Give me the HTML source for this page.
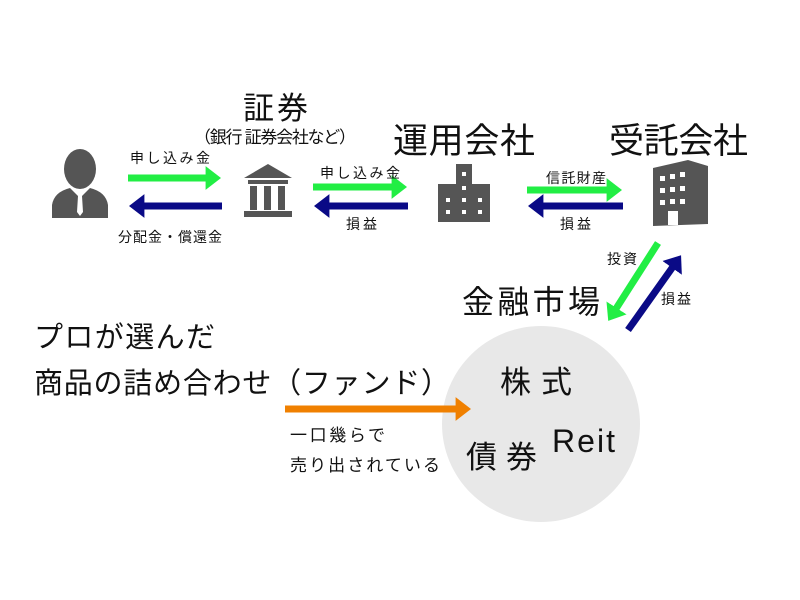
<!DOCTYPE html>
<html><head><meta charset="utf-8"><style>
html,body{margin:0;padding:0;background:#fff;}
svg{display:block;}
text{font-family:"Liberation Sans","Noto Sans CJK JP",sans-serif;fill:#111;}
</style></head><body>
<svg width="800" height="600" viewBox="0 0 800 600" xmlns="http://www.w3.org/2000/svg">
<defs>
<marker id="g" markerWidth="4" markerHeight="4" refX="1.2" refY="2" orient="auto" markerUnits="strokeWidth"><path d="M0,0.3 L2.2,2 L0,3.7z" fill="#22ee44"/></marker>
<marker id="b" markerWidth="4" markerHeight="4" refX="1.2" refY="2" orient="auto" markerUnits="strokeWidth"><path d="M0,0.3 L2.2,2 L0,3.7z" fill="#0a0a86"/></marker>
<marker id="o" markerWidth="4" markerHeight="4" refX="1.2" refY="2" orient="auto" markerUnits="strokeWidth"><path d="M0,0.3 L2.2,2 L0,3.7z" fill="#f08000"/></marker>
</defs>
<ellipse cx="541" cy="424" rx="99" ry="98" fill="#e8e8e8"/>

<g fill="#555">
<ellipse cx="80" cy="169" rx="16" ry="20"/>
<path d="M52,218 L52,205 Q54,192 70,188 L80,198 L90,188 Q106,192 108,205 L108,218z"/>
<path d="M78,196 L82,196 L83,212 L80,216 L77,212z" fill="#fff"/>
</g>
<g fill="#555">
<path d="M244,178 L268,164 L292,178z"/>
<rect x="248" y="180" width="40" height="4"/>
<rect x="250" y="186" width="7" height="24"/><rect x="264" y="186" width="7" height="24"/><rect x="278" y="186" width="7" height="24"/>
<rect x="244" y="211" width="48" height="6"/>
</g>
<g fill="#555">
<rect x="456" y="164" width="16" height="58"/>
<rect x="438" y="184" width="52" height="38"/>
<g fill="#fff">
<rect x="462" y="172" width="4" height="4"/><rect x="462" y="186" width="4" height="4"/>
<rect x="446" y="198" width="4" height="4"/><rect x="462" y="198" width="4" height="4"/><rect x="478" y="198" width="4" height="4"/>
<rect x="446" y="210" width="4" height="4"/><rect x="462" y="210" width="4" height="4"/><rect x="478" y="210" width="4" height="4"/>
</g></g>
<g fill="#555">
<path d="M653,168 L688,160 L708,166 L708,224 L653,226z"/>
<g fill="#fff">
<rect x="660" y="176" width="5" height="5"/><rect x="670" y="174" width="5" height="5"/><rect x="680" y="172" width="5" height="5"/>
<rect x="660" y="188" width="5" height="5"/><rect x="670" y="187" width="5" height="5"/><rect x="680" y="186" width="5" height="5"/>
<rect x="660" y="200" width="5" height="5"/><rect x="670" y="199" width="5" height="5"/><rect x="680" y="199" width="5" height="5"/>
<rect x="668" y="211" width="10" height="14"/>
</g></g>

<g stroke-width="7" fill="none">
<line x1="128" y1="178" x2="214" y2="178" stroke="#22ee44" marker-end="url(#g)"/>
<line x1="222" y1="206" x2="136" y2="206" stroke="#0a0a86" marker-end="url(#b)"/>
<line x1="313" y1="187" x2="400" y2="187" stroke="#22ee44" marker-end="url(#g)"/>
<line x1="408" y1="206" x2="321" y2="206" stroke="#0a0a86" marker-end="url(#b)"/>
<line x1="527" y1="190" x2="615" y2="190" stroke="#22ee44" marker-end="url(#g)"/>
<line x1="623" y1="206" x2="535" y2="206" stroke="#0a0a86" marker-end="url(#b)"/>
<line x1="658" y1="243" x2="612" y2="315" stroke="#22ee44" marker-end="url(#g)"/>
<line x1="628" y1="330" x2="677" y2="261" stroke="#0a0a86" marker-end="url(#b)"/>
<line x1="285" y1="409" x2="464" y2="409" stroke="#f08000" marker-end="url(#o)"/>
</g>

<text x="243" y="119" font-size="31" textLength="65">証券</text>
<text x="194" y="143" font-size="17" textLength="162">（銀行 証券会社など）</text>
<text x="130" y="163" font-size="14" textLength="80">申し込み金</text>
<text x="118" y="242" font-size="14" textLength="104">分配金・償還金</text>
<text x="320" y="178" font-size="14" textLength="80">申し込み金</text>
<text x="346" y="229" font-size="14" textLength="31">損益</text>
<text x="393" y="153" font-size="35" textLength="142">運用会社</text>
<text x="546" y="183" font-size="14" textLength="60">信託財産</text>
<text x="560" y="229" font-size="14" textLength="31">損益</text>
<text x="609" y="153" font-size="35" textLength="139">受託会社</text>
<text x="607" y="264" font-size="14" textLength="30">投資</text>
<text x="661" y="304" font-size="14" textLength="30">損益</text>
<text x="462" y="313" font-size="32" textLength="138">金融市場</text>
<text x="34" y="347" font-size="29" textLength="181">プロが選んだ</text>
<text x="34" y="393" font-size="29" textLength="416">商品の詰め合わせ（ファンド）</text>
<text x="500" y="393" font-size="31" textLength="72">株式</text>
<text x="466" y="468" font-size="31" textLength="71">債券</text>
<text x="552" y="452" font-size="32" textLength="63">Reit</text>
<text x="290" y="441" font-size="17" textLength="95">一口幾らで</text>
<text x="290" y="471" font-size="17" textLength="150">売り出されている</text>
</svg>
</body></html>
